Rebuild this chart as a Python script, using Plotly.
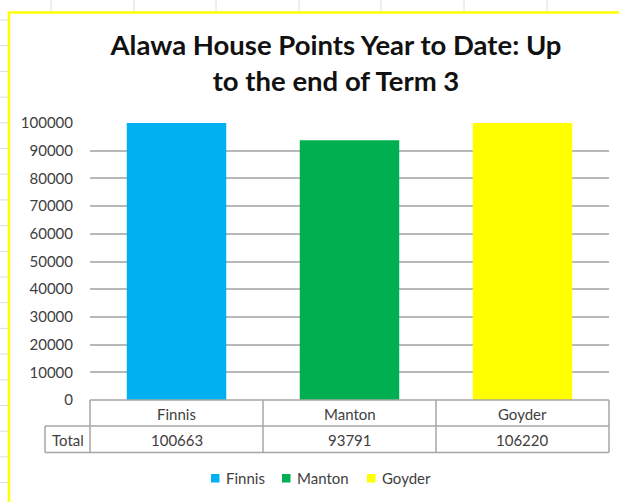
import plotly.graph_objects as go

categories = ["Finnis", "Manton", "Goyder"]
totals = [100663, 93791, 106220]
colors = ["#00B0F0", "#00B050", "#FFFF00"]
row_label = "Total"
y_ticks = [0, 10000, 20000, 30000, 40000, 50000, 60000, 70000, 80000, 90000, 100000]
title_text = "Alawa House Points Year to Date: Up<br>to the end of Term 3"

W, H = 619, 502
L, R, T, B = 90, 10, 123, 102
PW = W - L - R
PH = H - T - B


def px(x):
    return (x - L) / PW


def py(y):
    return (H - B - y) / PH


FONT = "Lato"
TXT = "#404040"
fig = go.Figure()
for c, v, col in zip(categories, totals, colors):
    fig.add_trace(go.Bar(x=[c], y=[v], name=c, marker=dict(color=col, line=dict(width=0)),
                         showlegend=False))

shapes = []
# spreadsheet grid in background
for gx in [51, 134, 216, 299, 381, 464, 547]:
    shapes.append(dict(type="line", xref="paper", yref="paper", x0=px(gx), x1=px(gx),
                       y0=py(0), y1=py(12), line=dict(color="#dcdcdc", width=1), layer="below"))
gy = 20
while gy < H:
    shapes.append(dict(type="line", xref="paper", yref="paper", x0=px(0), x1=px(8),
                       y0=py(gy), y1=py(gy), line=dict(color="#dcdcdc", width=1), layer="below"))
    gy += 25.7
# yellow chart border
shapes.append(dict(type="rect", xref="paper", yref="paper", x0=px(9), x1=px(640),
                   y0=py(520), y1=py(12.5), line=dict(color="#FFFF00", width=2.5), layer="below"))

tc = "#a6a6a6"
tw = 1.5
y_top, y_mid, y_bot = 400, 426, 452.5
x_left, x_plot, x_right = 45, 90, 609
shapes.append(dict(type="line", xref="paper", yref="paper", x0=px(x_plot), x1=px(x_right),
                   y0=py(y_top), y1=py(y_top), line=dict(color=tc, width=tw)))
for yy in (y_mid, y_bot):
    shapes.append(dict(type="line", xref="paper", yref="paper", x0=px(x_left), x1=px(x_right),
                       y0=py(yy), y1=py(yy), line=dict(color=tc, width=tw)))
shapes.append(dict(type="line", xref="paper", yref="paper", x0=px(x_left), x1=px(x_left),
                   y0=py(y_mid), y1=py(y_bot), line=dict(color=tc, width=tw)))
n = len(categories)
for i in range(n + 1):
    xx = x_plot + (x_right - x_plot) * i / n
    shapes.append(dict(type="line", xref="paper", yref="paper", x0=px(xx), x1=px(xx),
                       y0=py(y_top), y1=py(y_bot), line=dict(color=tc, width=tw)))

annotations = []
tfont = dict(family=FONT, size=15, color=TXT)
for i, (c, v) in enumerate(zip(categories, totals)):
    xc = x_plot + (x_right - x_plot) * (i + 0.5) / n
    annotations.append(dict(xref="paper", yref="paper", x=px(xc), y=py(413.5), text=c,
                            showarrow=False, font=tfont, xanchor="center", yanchor="middle"))
    annotations.append(dict(xref="paper", yref="paper", x=px(xc), y=py(439.5), text=str(v),
                            showarrow=False, font=tfont, xanchor="center", yanchor="middle"))
annotations.append(dict(xref="paper", yref="paper", x=px((x_left + x_plot) / 2), y=py(439.5),
                        text=row_label, showarrow=False, font=tfont, xanchor="center",
                        yanchor="middle"))

# legend (drawn manually to match spreadsheet legend spacing)
legend_square_x = [211, 282, 367]
legend_y = 478
for c, col, sx in zip(categories, colors, legend_square_x):
    shapes.append(dict(type="rect", xref="paper", yref="paper", x0=px(sx), x1=px(sx + 8.5),
                       y0=py(legend_y + 4.5), y1=py(legend_y - 4), fillcolor=col,
                       line=dict(width=0)))
    annotations.append(dict(xref="paper", yref="paper", x=px(sx + 13), y=py(legend_y), text=c,
                            showarrow=False, font=tfont, xanchor="left", yanchor="middle"))

fig.update_layout(
    width=W, height=H,
    margin=dict(l=L, r=R, t=T, b=B, pad=0),
    paper_bgcolor="white", plot_bgcolor="white",
    title=dict(text=title_text, xref="container", x=336 / W, xanchor="center",
               yref="container", y=1 - 55 / H, yanchor="middle",
               font=dict(family=FONT, size=27.5, color="#111111", weight="bold")),
    bargap=0.425,
    showlegend=False,
    xaxis=dict(showticklabels=False, showgrid=False, zeroline=False, showline=False, ticks=""),
    yaxis=dict(range=[0, 100000], tickvals=y_ticks, ticktext=[str(t) for t in y_ticks],
               showgrid=True, gridcolor="#b8b8b8", gridwidth=1.5, zeroline=False, showline=False,
               ticks="outside", ticklen=13, tickcolor="rgba(0,0,0,0)",
               tickfont=dict(family=FONT, size=15, color=TXT)),
    shapes=shapes,
    annotations=annotations,
)

fig.write_html("out.html", config={"displayModeBar": False},
               post_script="document.body.style.margin='0px';")
